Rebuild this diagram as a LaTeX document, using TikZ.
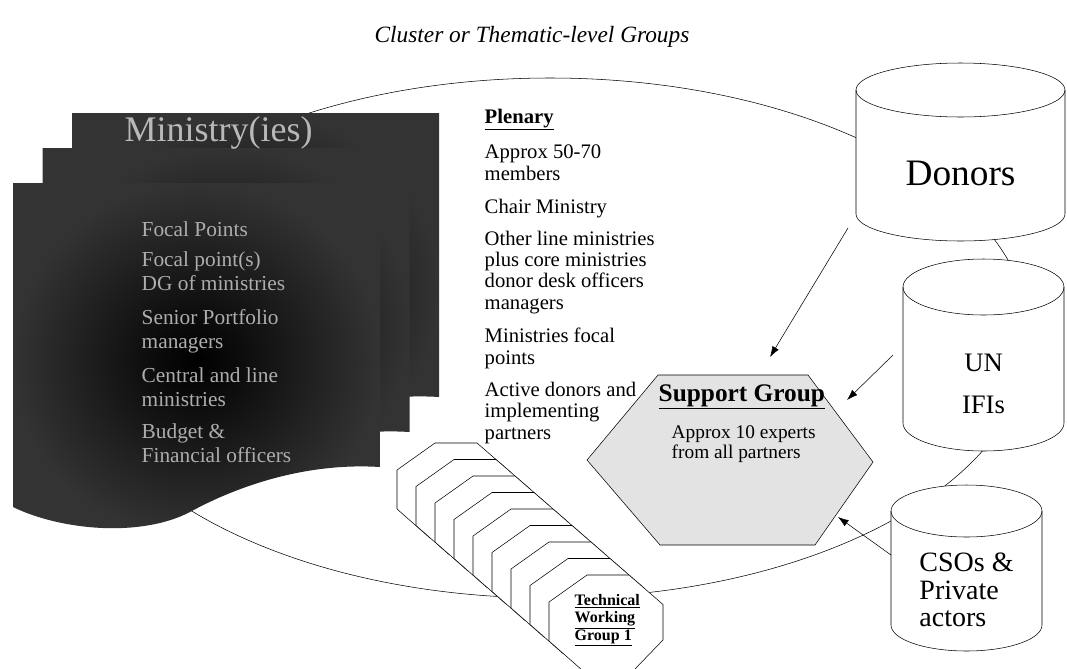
\documentclass[tikz,border=0pt]{standalone}
\usepackage{fontspec}
\setmainfont{Liberation Serif}
\usetikzlibrary{positioning,arrows.meta}

\begin{document}
\begin{tikzpicture}[x=0.75pt,y=-0.75pt,
	page/.style={inner color=black,outer color=black!80},
	mintext/.style={anchor=base west,align=left,text=black!32,font=\fontsize{16}{18}\selectfont},
	pltext/.style={anchor=base west,align=left,font=\fontsize{15.5}{16}\selectfont},
	body/.style={inner sep=0pt,outer sep=0pt},
	arr/.style={-{Latex[length=8pt,width=5.5pt]}}]
\useasboundingbox (0,0) rectangle (1067,668);

\node(title) at (532,37) {\fontsize{17.5}{20}\selectfont\itshape Cluster or Thematic-level Groups};

\draw (550,338) ellipse [x radius=360pt,y radius=195pt];

% ministry pages
\foreach \dx/\dy in {59/-70,29.5/-35,0/0}
	\shade[page,shift={(\dx,\dy)}] (13,183) -- (380,183) -- (380,467) .. controls (300,462) and (230,490) .. (190,512) .. controls (140,538) and (60,530) .. (13,507) -- cycle;

\node[anchor=west,text=black!28](min) at (120,133) {\fontsize{27}{30}\selectfont Ministry(ies)};
\node[mintext](fp) at (137,236) {Focal Points};
\node[mintext](fp2) at (137,290) {Focal point(s)\\DG of ministries};
\node[mintext](spm) at (137,348) {Senior Portfolio\\managers};
\node[mintext](clm) at (137,406) {Central and line\\ministries};
\node[mintext](bfo) at (137,462) {Budget \&\\Financial officers};

% plenary
\node[pltext,font=\fontsize{15.5}{16}\bfseries](plen) at (480,123) {\underline{Plenary}};
\node[pltext](pl1) at (480,180) {Approx 50-70\\members};
\node[pltext](pl2) at (480,213) {Chair Ministry};
\node[pltext](pl3) at (480,309) {Other line ministries\\plus core ministries\\donor desk officers\\managers};
\node[pltext](pl4) at (480,364) {Ministries focal\\points};
\node[pltext](pl5) at (480,439) {Active donors and\\implementing\\partners};

% technical working groups
\foreach \i in {8,7,...,0}
	\draw[fill=white,shift={(-19*\i,-16.5*\i)}] (587,575) -- (629,575) -- (663,604.5) -- (663,640) -- (634,670) -- (582,670) -- (549,641) -- (549,602) -- cycle;
\node[anchor=base west,align=left,font=\fontsize{12}{13}\bfseries](twg) at (570,640) {\underline{Technical}\\\underline{Working}\\\underline{Group 1}};

% support group
\draw[fill=black!11] (658,375) -- (808,375) -- (873,462) -- (815,545) -- (660,545) -- (587,460) -- cycle;
\node[anchor=west,font=\fontsize{19}{20}\bfseries](sg) at (654,397) {\underline{Support Group}};
\node[anchor=base west,align=left,font=\fontsize{14.5}{15}\selectfont](sgt) at (667,458) {Approx 10 experts\\from all partners};

% partners
\node[body,minimum width=156.75pt,minimum height=93pt](donors) at (960.5,152) {};
\draw[fill=white] (donors.north west) -- (donors.south west) arc[start angle=180,end angle=360,x radius=78.375pt,y radius=20.25pt] -- (donors.north east) arc[start angle=0,end angle=180,x radius=78.375pt,y radius=20.25pt] -- cycle;
\draw (donors.north west) arc[start angle=180,end angle=360,x radius=78.375pt,y radius=20.25pt];

\node[body,minimum width=120.75pt,minimum height=102pt](un) at (983.5,355) {};
\draw[fill=white] (un.north west) -- (un.south west) arc[start angle=180,end angle=360,x radius=60.375pt,y radius=21pt] -- (un.north east) arc[start angle=0,end angle=180,x radius=60.375pt,y radius=21pt] -- cycle;
\draw (un.north west) arc[start angle=180,end angle=360,x radius=60.375pt,y radius=21pt];

\node[body,minimum width=113.25pt,minimum height=85.5pt](cso) at (966.5,568) {};
\draw[fill=white] (cso.north west) -- (cso.south west) arc[start angle=180,end angle=360,x radius=56.625pt,y radius=19.5pt] -- (cso.north east) arc[start angle=0,end angle=180,x radius=56.625pt,y radius=19.5pt] -- cycle;
\draw (cso.north west) arc[start angle=180,end angle=360,x radius=56.625pt,y radius=19.5pt];

\node[font=\fontsize{28}{30}\selectfont](dtext) at ([yshift=-15.75pt]donors.center) {Donors};
\node[align=center,font=\fontsize{20}{32}\selectfont](untext) at ([yshift=-21.75pt]un.center) {UN\\IFIs};
\node[align=left,font=\fontsize{21}{20.6}\selectfont](csotext) at ([yshift=-16.5pt]cso.center) {CSOs \&\\Private\\actors};

\coordinate(dtip) at (770,357);
\coordinate(utip) at (847,400);
\coordinate(ctip) at (838,517);
\draw[arr] ([xshift=-6pt,yshift=-10.5pt]donors.south west) -- (dtip);
\draw[arr] ([xshift=-7.5pt]un.west) -- (utip);
\draw[arr] ([yshift=9.75pt]cso.west) -- (ctip);

\end{tikzpicture}
\end{document}
